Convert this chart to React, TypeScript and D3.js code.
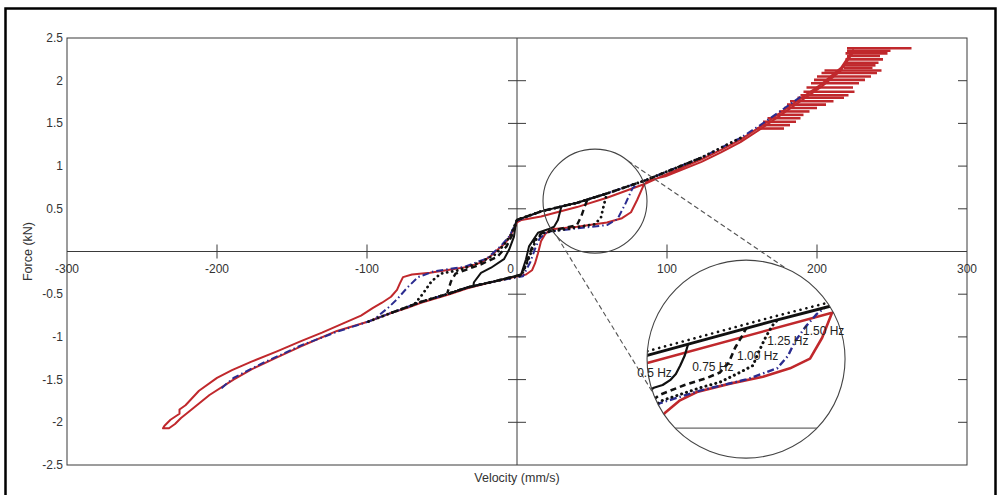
import React from "react";
import * as d3 from "d3";

type P = [number, number];

const W = 998;
const H = 495;
const PLOT = { left: 67, right: 967, top: 38, bottom: 465 };

const xDomain: P = [-300, 300];
const yDomain: P = [-2.5, 2.5];
const xTickValues = [-300, -200, -100, 0, 100, 200, 300];
const yTickValues = [2.5, 2, 1.5, 1, 0.5, -0.5, -1, -1.5, -2, -2.5];
const xLabel = "Velocity (mm/s)";
const yLabel = "Force (kN)";

// ---- 1.50 Hz loop (red), velocity mm/s, force kN ----
const redLoop: P[] = [
  [224, 2.36], [216, 2.15], [203, 1.96], [189, 1.79], [176, 1.63], [163, 1.47], [149, 1.31], [136, 1.19],
  [123, 1.08], [99, 0.9], [85, 0.79], [60, 0.63], [40, 0.52], [16, 0.41], [3, 0.37], [0, 0.34],
  [-1.5, 0.28], [-4, 0.2], [-6, 0.14], [-9, 0.08], [-13, 0.02], [-18, -0.06], [-24, -0.13], [-33, -0.18],
  [-44, -0.21], [-58, -0.25], [-70, -0.27], [-76, -0.3], [-78, -0.37], [-80, -0.45], [-84, -0.53],
  [-90, -0.6], [-96, -0.66], [-104, -0.75], [-117, -0.85], [-130, -0.95], [-144, -1.05], [-160, -1.17],
  [-177, -1.29], [-190, -1.39], [-200, -1.48], [-212, -1.63], [-221, -1.8], [-225, -1.85], [-225, -1.9],
  [-231, -1.97], [-235, -2.04], [-236, -2.07],
  [-232, -2.07], [-228, -2.02], [-224, -1.95], [-219, -1.88], [-205, -1.68], [-189, -1.5], [-177, -1.38],
  [-160, -1.24], [-144, -1.11], [-120, -0.93], [-99, -0.82], [-84, -0.72], [-73, -0.66], [-64, -0.6],
  [-45, -0.5], [-33, -0.43], [-15, -0.35], [-2, -0.3], [6, -0.27], [10, -0.22], [12, -0.14], [14, -0.02],
  [16, 0.12], [19, 0.21], [23, 0.26], [40, 0.29], [60, 0.34], [70, 0.39], [76, 0.46], [80, 0.6],
  [84, 0.76], [87, 0.83], [99, 0.88], [123, 1.05], [136, 1.16], [149, 1.28], [163, 1.44], [176, 1.6],
  [189, 1.76], [203, 1.93], [216, 2.12], [224, 2.33],
];

// noisy horizontal strokes of the 1.50 Hz record at high velocity: [force, vStart, vEnd]
const redTailStrokes: [number, number, number][] = [
  [2.38, 220, 263], [2.35, 220, 249], [2.32, 219, 247], [2.29, 220, 242], [2.25, 219, 244],
  [2.21, 219, 241], [2.18, 218, 239], [2.15, 218, 237], [2.12, 205, 243], [2.09, 203, 240], [2.05, 200, 236],
  [2.01, 198, 232], [1.97, 196, 228], [1.92, 193, 224], [1.87, 191, 225], [1.83, 189, 221],
  [1.8, 187, 218], [1.76, 182, 211], [1.72, 180, 206], [1.68, 178, 200], [1.64, 175, 195],
  [1.6, 173, 191], [1.56, 167, 189], [1.52, 164, 186], [1.48, 162, 182], [1.44, 160, 178],
];

// ---- shared backbones of the lower-frequency loops ----
const upperBackbone: P[] = [
  [0, 0.4], [16, 0.47], [40, 0.57], [60, 0.68], [85, 0.83], [99, 0.93], [123, 1.1], [149, 1.33],
  [163, 1.49], [176, 1.65], [189, 1.81], [203, 1.98],
];
const lowerBackbone: P[] = [
  [-197, -1.6], [-189, -1.48], [-170, -1.31], [-144, -1.1], [-120, -0.94], [-99, -0.82], [-84, -0.72],
  [-64, -0.59], [-45, -0.49], [-33, -0.42], [-15, -0.35], [0, -0.3],
];

// 0.5 Hz
const hz050NegUpper: P[] = [
  [0, 0.37], [-0.7, 0.34], [-2, 0.175], [-5.3, 0.02], [-8.7, -0.09], [-17.3, -0.19], [-24, -0.25],
  [-28.7, -0.36], [-29.3, -0.42],
];
const hz050PosLower: P[] = [
  [2.7, -0.27], [6, -0.09], [8, 0.06], [14, 0.22], [20.7, 0.26], [24.7, 0.29], [27.3, 0.37], [29.5, 0.52],
];
// 0.75 Hz
const hz075NegUpper: P[] = [
  [0, 0.37], [-3, 0.2], [-7, 0.06], [-13, -0.06], [-24, -0.15], [-35, -0.22], [-41, -0.26], [-44, -0.35],
  [-46.5, -0.49],
];
const hz075PosLower: P[] = [
  [3, -0.27], [6, -0.15], [9, 0], [12, 0.15], [17, 0.22], [30, 0.27], [40, 0.31], [43, 0.42], [45, 0.52],
  [47, 0.61],
];
// 1.00 Hz
const hz100NegUpper: P[] = [
  [0, 0.37], [-4, 0.2], [-9, 0.07], [-15, -0.04], [-25, -0.13], [-39, -0.22], [-51, -0.26], [-57, -0.35],
  [-63, -0.5], [-69, -0.63],
];
const hz100PosLower: P[] = [
  [3, -0.28], [7, -0.12], [10, 0.02], [13, 0.15], [18, 0.22], [35, 0.27], [52, 0.32], [56, 0.4],
  [58, 0.55], [60, 0.68],
];
// 1.25 Hz
const hz125NegUpper: P[] = [
  [0, 0.36], [-5, 0.18], [-11, 0.06], [-20, -0.08], [-35, -0.18], [-55, -0.23], [-66, -0.3], [-73, -0.42],
  [-80, -0.56], [-86, -0.66], [-95, -0.79],
];
const hz125PosLower: P[] = [
  [4, -0.29], [9, -0.12], [12, 0.03], [15, 0.15], [20, 0.23], [40, 0.27], [60, 0.31], [67, 0.38],
  [72, 0.55], [77, 0.74], [81, 0.8],
];

const loopNames = ["0.5 Hz", "0.75 Hz", "1.00 Hz", "1.25 Hz"];
const loopVMin = [-55, -84, -99, -197];
const loopVMax = [60, 123, 149, 189];

// ---- inset (magnified view) data, inset units ----
const insetRedUpper: P[] = [[-5, 0.43], [3.4, 0.47], [87, 0.83], [100, 0.9]];
const insetRedLower: P[] = [
  [3, -0.02], [8, 0.06], [11.1, 0.11], [17.9, 0.2], [25.6, 0.26], [40.6, 0.32], [55.6, 0.37],
  [67.9, 0.43], [77, 0.5], [82.5, 0.65], [87, 0.83],
];
const insetBlackUpper: P[] = [[-5, 0.49], [3.4, 0.525], [30, 0.64], [60, 0.77], [87, 0.88], [100, 0.93]];
const insetHz050: P[] = [[-2, 0.2], [3, 0.26], [6, 0.29], [10, 0.31], [13.4, 0.345], [16, 0.39], [18, 0.45], [20, 0.52], [21.5, 0.6]];
const insetHz075: P[] = [[2, 0.16], [8.8, 0.24], [20, 0.31], [30, 0.36], [36, 0.4], [40, 0.47], [43, 0.58], [46, 0.66], [48, 0.72]];
const insetHz100: P[] = [[2, 0.12], [10, 0.2], [27, 0.29], [36, 0.33], [45, 0.4], [51, 0.45], [54, 0.56], [57, 0.66], [60, 0.74], [62, 0.775]];
const insetHz125: P[] = [[2, 0.1], [8.8, 0.18], [27, 0.27], [48, 0.35], [62, 0.43], [67, 0.52], [70, 0.62], [75, 0.73], [80, 0.82], [84, 0.87]];
const insetLabels = ["0.5 Hz", "0.75 Hz", "1.00 Hz", "1.25 Hz", "1.50 Hz"];
const insetLabelV = [-1.6, 23.4, 43.8, 57.5, 73.8];
const insetLabelF = [0.37, 0.41, 0.49, 0.6, 0.67];

// magnifier annotation (centres in data units, radii in px)
const smallLens = { v: 52, f: 0.59, r: 52 };
const bigLens = { v: 152.7, f: -1.26, r: 99 };

const RED = "#c0282c";
const BLUE = "#2b2c90";
const AXIS = "#3a3a3a";
const FONT = "'Liberation Sans', Arial, Helvetica, sans-serif";

type Style = { stroke: string; width: number; dash?: string; cap?: "round" | "butt" };
const loopStyles: Style[] = [
  { stroke: "#111", width: 2 },
  { stroke: "#111", width: 2.4, dash: "6 4" },
  { stroke: "#111", width: 2.8, dash: "0.1 5", cap: "round" },
  { stroke: BLUE, width: 2, dash: "7 3 1.5 3" },
];
const redStyle: Style = { stroke: RED, width: 2 };

export default function App() {
  const x = d3.scaleLinear().domain(xDomain).range([PLOT.left, PLOT.right]);
  const y = d3.scaleLinear().domain(yDomain).range([PLOT.bottom, PLOT.top]);
  const line = d3.line<P>().x((d) => x(d[0])).y((d) => y(d[1]));
  const x0 = x(0);
  const y0 = y(0);

  const loops = [
    [hz050NegUpper, hz050PosLower],
    [hz075NegUpper, hz075PosLower],
    [hz100NegUpper, hz100PosLower],
    [hz125NegUpper, hz125PosLower],
  ].map(([negUpper, posLower], i) => {
    const a: P[] = [
      ...upperBackbone.filter((d) => d[0] > 0 && d[0] <= loopVMax[i]).slice().reverse(),
      ...negUpper,
    ];
    const b: P[] = [...lowerBackbone.filter((d) => d[0] >= loopVMin[i] && d[0] < 0), ...posLower];
    return { name: loopNames[i], a, b };
  });

  const scx = x(smallLens.v);
  const scy = y(smallLens.f);
  const bcx = x(bigLens.v);
  const bcy = y(bigLens.f);
  const br = bigLens.r;
  const sr = smallLens.r;

  const ix = d3.scaleLinear().domain([0, 100]).range([bcx - 105.4, bcx + 114.6]);
  const iy = d3.scaleLinear().domain([0, 1]).range([bcy + 69, bcy - 70]);
  const iline = d3.line<P>().x((d) => ix(d[0])).y((d) => iy(d[1]));

  const pt = (cx: number, cy: number, r: number, deg: number): P => [
    cx + r * Math.cos((deg * Math.PI) / 180),
    cy + r * Math.sin((deg * Math.PI) / 180),
  ];
  const connectors = [
    [pt(scx, scy, sr, -50.5), pt(bcx, bcy, br, -66)],
    [pt(scx, scy, sr, 136.5), pt(bcx, bcy, br, 160)],
  ];
  const chordY = iy(0);
  const chordHalf = Math.sqrt(br * br - (chordY - bcy) ** 2);

  const pathEl = (d: string | null, s: Style, key: string | number) => (
    <path
      key={key}
      d={d ?? ""}
      fill="none"
      stroke={s.stroke}
      strokeWidth={s.width}
      strokeDasharray={s.dash}
      strokeLinecap={s.cap ?? "butt"}
      strokeLinejoin="round"
    />
  );

  return (
    <svg
      width={W}
      height={H}
      style={{ position: "fixed", left: 0, top: 0, background: "#fff" }}
      fontFamily={FONT}
    >
      <rect x={0} y={0} width={W} height={H} fill="#fff" />
      <rect x={5.5} y={8.5} width={990} height={500} fill="none" stroke="#000" strokeWidth={2.5} />

      {/* plot box */}
      <rect
        x={PLOT.left}
        y={PLOT.top}
        width={PLOT.right - PLOT.left}
        height={PLOT.bottom - PLOT.top}
        fill="none"
        stroke={AXIS}
        strokeWidth={1}
      />
      {/* origin axes */}
      <line x1={PLOT.left} x2={PLOT.right} y1={y0} y2={y0} stroke={AXIS} strokeWidth={1} />
      <line x1={x0} x2={x0} y1={PLOT.top} y2={PLOT.bottom} stroke={AXIS} strokeWidth={1} />

      {xTickValues
        .filter((v) => v !== 0 && Math.abs(v) !== 300)
        .map((v) => (
          <line key={"xt" + v} x1={x(v)} x2={x(v)} y1={y0 - 7} y2={y0 + 7} stroke={AXIS} strokeWidth={1} />
        ))}
      {xTickValues.map((v) => (
        <text
          key={"xl" + v}
          x={v === 0 ? x0 - 3 : x(v)}
          y={y0 + 21}
          fontSize={12}
          fill="#333"
          textAnchor={v === 0 ? "end" : "middle"}
        >
          {v}
        </text>
      ))}
      {yTickValues
        .filter((v) => Math.abs(v) !== 2.5)
        .map((v) => (
          <g key={"yt" + v}>
            <line x1={x0 - 9} x2={x0 + 9} y1={y(v)} y2={y(v)} stroke={AXIS} strokeWidth={1} />
            <line x1={PLOT.right - 9} x2={PLOT.right} y1={y(v)} y2={y(v)} stroke={AXIS} strokeWidth={1} />
          </g>
        ))}
      {yTickValues.map((v) => (
        <text key={"yl" + v} x={PLOT.left - 4} y={y(v) + 4} fontSize={12} fill="#333" textAnchor="end">
          {v}
        </text>
      ))}
      <text x={x0} y={482} fontSize={12.5} fill="#333" textAnchor="middle">
        {xLabel}
      </text>
      <text
        transform={`translate(32, ${y0}) rotate(-90)`}
        fontSize={12.5}
        fill="#333"
        textAnchor="middle"
      >
        {yLabel}
      </text>

      {/* data */}
      {pathEl(line(redLoop) + "Z", redStyle, "red")}
      {redTailStrokes.map(([f, v1, v2], i) => (
        <line key={"rs" + i} x1={x(v1)} x2={x(v2)} y1={y(f)} y2={y(f)} stroke={RED} strokeWidth={2.6} />
      ))}
      {[3, 2, 1, 0].map((i) => (
        <g key={"loop" + i}>
          {pathEl(line(loops[i].a), loopStyles[i], "a")}
          {pathEl(line(loops[i].b), loopStyles[i], "b")}
        </g>
      ))}

      {/* magnifier */}
      <circle cx={scx} cy={scy} r={sr} fill="none" stroke="#444" strokeWidth={1.1} />
      {connectors.map(([p1, p2], i) => (
        <line
          key={"cn" + i}
          x1={p1[0]}
          y1={p1[1]}
          x2={p2[0]}
          y2={p2[1]}
          stroke="#555"
          strokeWidth={1.1}
          strokeDasharray="5 3"
        />
      ))}
      <defs>
        <clipPath id="insetClip">
          <circle cx={bcx} cy={bcy} r={br} />
        </clipPath>
      </defs>
      <circle cx={bcx} cy={bcy} r={br} fill="#fff" stroke="none" />
      <g clipPath="url(#insetClip)">
        <line x1={bcx - chordHalf} x2={bcx + chordHalf} y1={chordY} y2={chordY} stroke="#444" strokeWidth={1} />
        {pathEl(iline(insetRedUpper), { stroke: RED, width: 2.4 }, "iru")}
        {pathEl(iline(insetRedLower), { stroke: RED, width: 2.6 }, "irl")}
        {pathEl(iline(insetHz125), { ...loopStyles[3], width: 2.4 }, "i125")}
        {pathEl(iline(insetHz100), { ...loopStyles[2], width: 3 }, "i100")}
        {pathEl(iline(insetHz075), { ...loopStyles[1], width: 2.6 }, "i075")}
        {pathEl(iline(insetBlackUpper), { stroke: "#111", width: 3 }, "ibu")}
        {pathEl(iline(insetBlackUpper.map((d) => [d[0], d[1] + 0.03] as P)), { stroke: "#111", width: 2.6, dash: "0.1 6", cap: "round" }, "ibu2")}
        {pathEl(iline(insetHz050), { ...loopStyles[0], width: 2.2 }, "i050")}
      </g>
      <circle cx={bcx} cy={bcy} r={br} fill="none" stroke="#444" strokeWidth={1.1} />
      {insetLabels.map((t, i) => (
        <text key={"il" + i} x={ix(insetLabelV[i])} y={iy(insetLabelF[i])} fontSize={12} fill="#222">
          {t}
        </text>
      ))}
    </svg>
  );
}
